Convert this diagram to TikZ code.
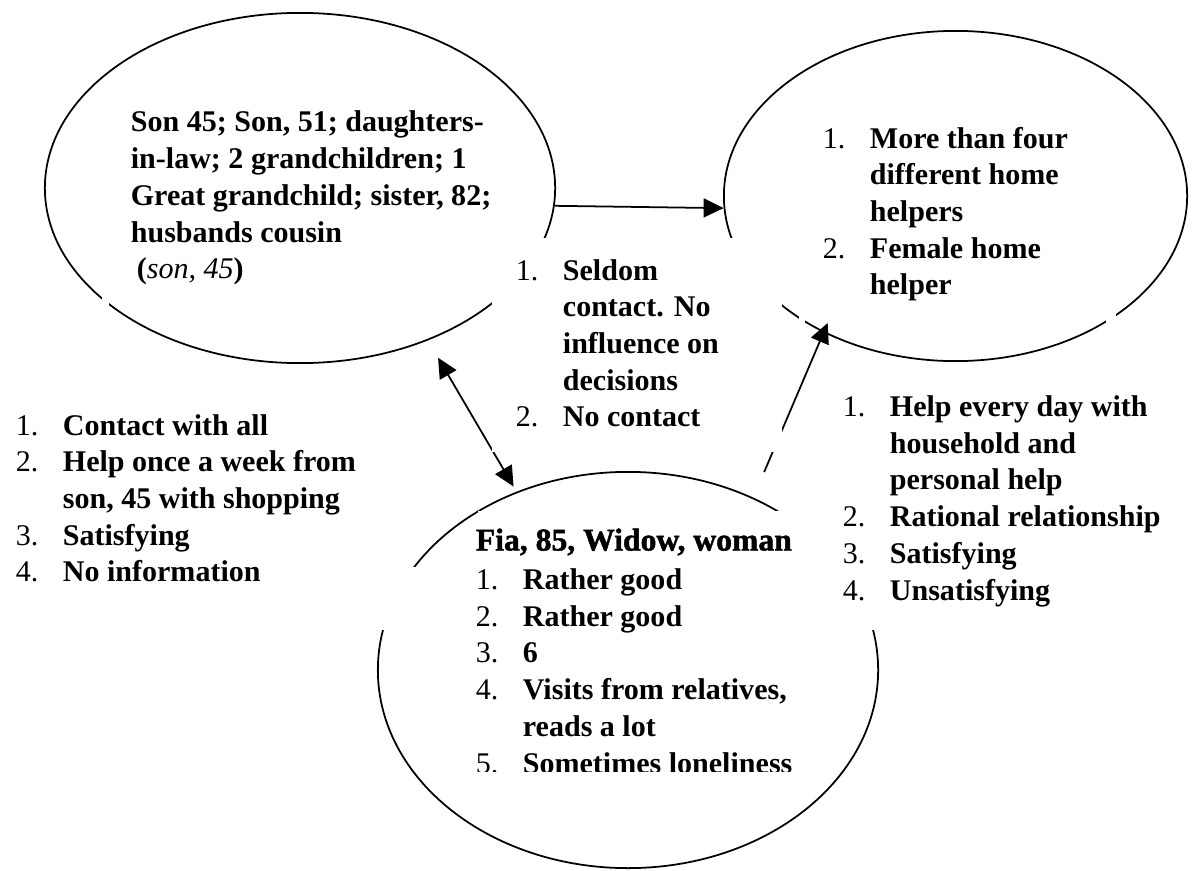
\documentclass[tikz,border=0pt]{standalone}
\usepackage{fontspec}
\setmainfont{Liberation Serif}
\newfontfamily\headfont{Liberation Serif}[BoldFeatures={FakeBold=1.5}]
\usepackage{array}
\usetikzlibrary{arrows.meta,shapes.geometric}

\begin{document}
\begin{tikzpicture}[x=0.01cm,y=-0.01cm,>={Triangle[length=2mm,width=1.9mm]},line width=0.5pt,
  bubble/.style={draw,ellipse,inner sep=0pt},
  txt/.style={anchor=base west,inner sep=0pt,font=\fontsize{8.54}{10.44}\selectfont\bfseries}]
\useasboundingbox (0,0) rectangle (1192,870);
\node[bubble,minimum width=5.1cm,minimum height=3.5cm] (kin) at (300,188) {};
\node[bubble,minimum width=4.63cm,minimum height=3.3cm] (helpers) at (955.5,196) {};
\node[bubble,minimum width=5cm,minimum height=3.96cm] (fia) at (628,670) {};
\draw[->] (kin.-4.5) -- (helpers.-177);
\draw[<->,shorten <=0.2cm,shorten >=0.06cm] (kin.-50.75) -- (fia.122.6);
\draw[->,shorten <=0.277cm,shorten >=-0.105cm] (fia.54.7) -- (helpers.-134.2);
\fill[white] (492,238) rectangle (782,452);
\fill[white] (102,295) rectangle (109,305);
\fill[white] (478,511) rectangle (780,560);
\fill[white] (776,511) rectangle (880,630);
\fill[white] (382,567) rectangle (421,630);
\fill[white] (1106,313) rectangle (1116,323);
\fill[white] (799,312) rectangle (805,324);
\node[txt] (kinlist) at (130,132) {\begin{tabular}[t]{@{}l@{}}Son 45; Son, 51; daughters-\\in-law; 2 grandchildren; 1\\Great grandchild; sister, 82;\\husbands cousin\\\hspace{0.06cm}({\mdseries\itshape son, 45})\end{tabular}};
\node[txt] (contactlist) at (515,280) {\begin{tabular}[t]{@{}>{\mdseries}p{0.47cm}@{}l@{}}1.&Seldom\\&contact. No\\&influence on\\&decisions\\2.&No contact\end{tabular}};
\node[txt] (helperlist) at (822,148) {\begin{tabular}[t]{@{}>{\mdseries}p{0.47cm}@{}l@{}}1.&More than four\\&different home\\&helpers\\2.&Female home\\&helper\end{tabular}};
\node[txt] (dailylist) at (842,416.5) {\begin{tabular}[t]{@{}>{\mdseries}p{0.47cm}@{}l@{}}1.&Help every day with\\&household and\\&personal help\\2.&Rational relationship\\3.&Satisfying\\4.&Unsatisfying\end{tabular}};
\node[txt] (sonlist) at (15,435) {\begin{tabular}[t]{@{}>{\mdseries}p{0.47cm}@{}l@{}}1.&Contact with all\\2.&Help once a week from\\&son, 45 with shopping\\3.&Satisfying\\4.&No information\end{tabular}};
\node[txt,font=\headfont\bfseries\fontsize{9}{10.44}\selectfont] (fiahead) at (475,550.5) {Fia, 85, Widow, woman};
\begin{scope}
\clip (0,0) rectangle (1192,771);
\node[txt] (fialist) at (475,589.5) {\begin{tabular}[t]{@{}>{\mdseries}p{0.47cm}@{}l@{}}1.&Rather good\\2.&Rather good\\3.&6\\4.&Visits from relatives,\\&reads a lot\\5.&Sometimes loneliness\end{tabular}};
\end{scope}
\end{tikzpicture}
\end{document}
